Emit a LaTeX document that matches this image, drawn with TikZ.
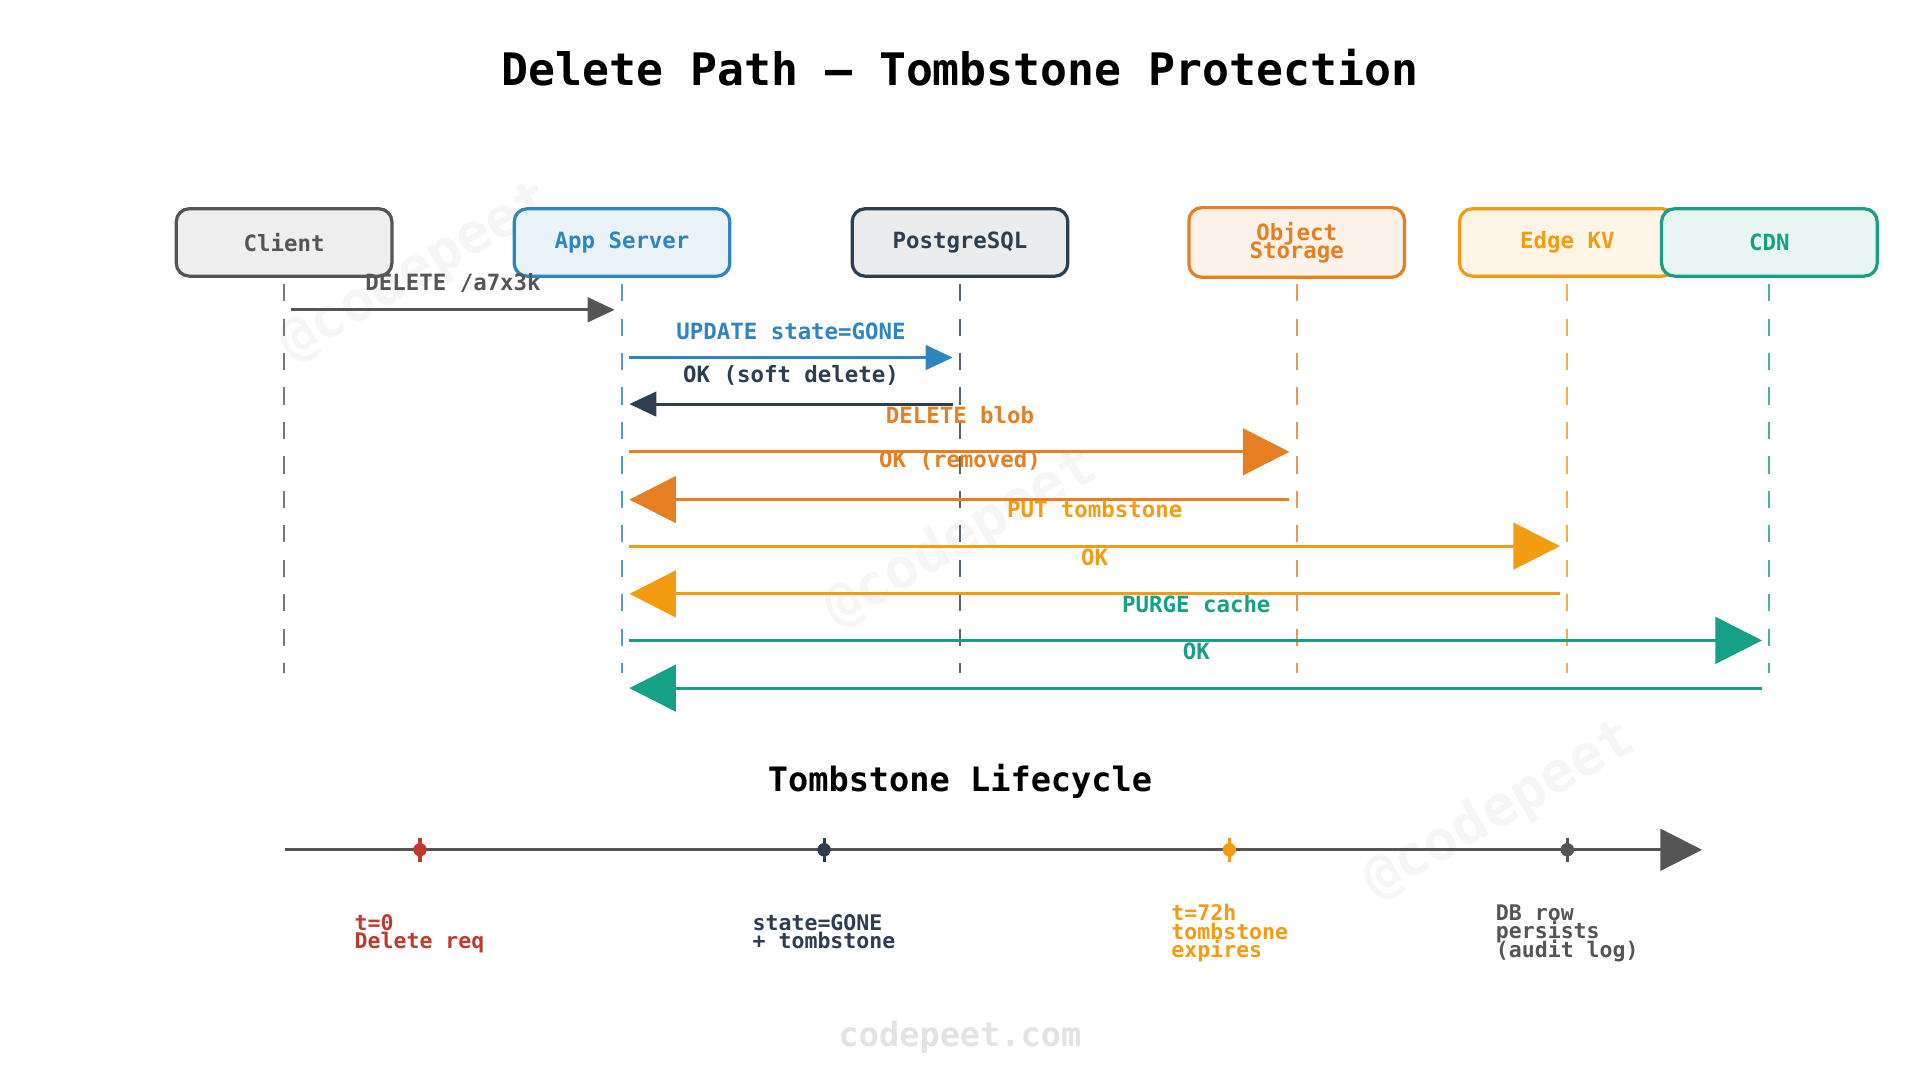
\documentclass[tikz,border=0pt]{standalone}
\usepackage{fontspec}
\setmonofont{DejaVu Sans Mono}
\usetikzlibrary{arrows.meta}
\definecolor{cgray}{HTML}{555555}
\definecolor{cblue}{HTML}{2E86C1}
\definecolor{cdark}{HTML}{2C3E50}
\definecolor{corange}{HTML}{E67E22}
\definecolor{cyellow}{HTML}{F39C12}
\definecolor{cteal}{HTML}{16A085}
\definecolor{cred}{HTML}{C0392B}
\newcommand{\steprows}{\lineskiplimit=-10pt\relax\lineskip=0pt\relax}
\tikzset{
  actor/.style = {draw=#1, fill=#1!10, line width=0.75pt, rounded corners=3pt,
    minimum width=1.76cm, minimum height=0.55cm, text=#1,
    font=\ttfamily\bfseries\fontsize{5.2}{5.2}\selectfont, align=center},
  life/.style = {draw=#1, dashed, dash pattern=on 4pt off 4pt, line width=0.5pt},
  msg/.style = {draw=#1, line width=0.7pt, -{Triangle[length=0.22cm,width=0.2cm]}},
  bigmsg/.style = {draw=#1, line width=0.7pt, -{Triangle[length=0.38cm,width=0.38cm]}},
  lbl/.style = {text=#1, font=\ttfamily\bfseries\fontsize{5.2}{5.2}\selectfont},
  step/.style = {text=#1, align=left, anchor=north west, inner sep=0pt,
    font=\ttfamily\bfseries\fontsize{5}{4.3}\selectfont\steprows},
  wmark/.style = {text=gray!7, rotate=30, font=\ttfamily\bfseries\fontsize{13}{13}\selectfont},
}
\begin{document}
\begin{tikzpicture}[x=0.01cm, y=-0.01cm]
    \useasboundingbox (0,0) rectangle (1568,882);

    % watermarks
    \node[wmark] (wm1) at (340,222) {@codepeet};
    \node[wmark] (wm2) at (785,440) {@codepeet};
    \node[wmark] (wm3) at (1225,662) {@codepeet};

    \node[font=\ttfamily\bfseries\fontsize{10.4}{10.4}\selectfont] (title) at (784,55) {Delete Path — Tombstone Protection};

    % participants
    \node[actor=cgray] (client) at (232,198) {Client};
    \node[actor=cblue] (app) at (508,198) {App Server};
    \node[actor=cdark] (pg) at (784,198) {PostgreSQL};
    \node[actor=corange] (obj) at (1059,198) {Object\\[-1pt]Storage};
    \node[actor=cyellow] (kv) at (1280,198) {Edge KV};
    \node[actor=cteal] (cdn) at (1445,198) {CDN};

    \foreach \p/\c in {client/cgray, app/cblue, pg/cdark, obj/corange, kv/cyellow, cdn/cteal} {
      \coordinate (\p-top) at (\p.south |- 0,232);
      \coordinate (\p-bot) at (\p.south |- 0,550);
      \draw[life=\c!80] (\p-top) -- (\p-bot);
    }

    % message ends
    \coordinate (m1a) at (238,253);  \coordinate (m1b) at (502,253);
    \coordinate (m2a) at (514,292);  \coordinate (m2b) at (778,292);
    \coordinate (m3a) at (778,330);  \coordinate (m3b) at (514,330);
    \coordinate (m4a) at (514,369);  \coordinate (m4b) at (1053,369);
    \coordinate (m5a) at (1053,408); \coordinate (m5b) at (514,408);
    \coordinate (m6a) at (514,446);  \coordinate (m6b) at (1274,446);
    \coordinate (m7a) at (1274,485); \coordinate (m7b) at (514,485);
    \coordinate (m8a) at (514,523);  \coordinate (m8b) at (1439,523);
    \coordinate (m9a) at (1439,562); \coordinate (m9b) at (514,562);

    \draw[msg=cgray] (m1a) -- (m1b);
    \node[lbl=cgray] (l1) at (370,231) {DELETE /a7x3k};
    \draw[msg=cblue] (m2a) -- (m2b);
    \node[lbl=cblue] (l2) at (646,271) {UPDATE state=GONE};
    \draw[msg=cdark] (m3a) -- (m3b);
    \node[lbl=cdark] (l3) at (646,307) {OK (soft delete)};
    \draw[bigmsg=corange] (m4a) -- (m4b);
    \node[lbl=corange] (l4) at (784,339) {DELETE blob};
    \draw[bigmsg=corange] (m5a) -- (m5b);
    \node[lbl=corange] (l5) at (784,376) {OK (removed)};
    \draw[bigmsg=cyellow] (m6a) -- (m6b);
    \node[lbl=cyellow] (l6) at (894,416) {PUT tombstone};
    \draw[bigmsg=cyellow] (m7a) -- (m7b);
    \node[lbl=cyellow] (l7) at (894,455) {OK};
    \draw[bigmsg=cteal] (m8a) -- (m8b);
    \node[lbl=cteal] (l8) at (977,493) {PURGE cache};
    \draw[bigmsg=cteal] (m9a) -- (m9b);
    \node[lbl=cteal] (l9) at (977,532) {OK};

    % lifecycle
    \node[font=\ttfamily\bfseries\fontsize{7.8}{7.8}\selectfont] (ltitle) at (784,638) {Tombstone Lifecycle};
    \coordinate (t-start) at (233,694);
    \coordinate (t-end) at (1390,694);
    \draw[draw=cgray, line width=0.7pt, -{Triangle[length=0.34cm,width=0.34cm]}] (t-start) -- (t-end);
    \foreach \x/\c/\n in {343/cred/d1, 673/cdark/d2, 1004/cyellow/d3, 1280/cgray/d4} {
      \draw[\c, line width=0.7pt] (\x,684) -- (\x,704);
      \fill[\c] (\x,694) circle (5.5) coordinate (\n);
    }
    \node[step=cred] (s1) at (289,746) {t=0\\Delete req};
    \node[step=cdark] (s2) at (614,746) {state=GONE\\+ tombstone};
    \node[step=cyellow] (s3) at (956,738) {t=72h\\tombstone\\expires};
    \node[step=cgray] (s4) at (1221,738) {DB row\\persists\\(audit log)};

    \node[text=gray!22, font=\ttfamily\bfseries\fontsize{7.8}{7.8}\selectfont] (footer) at (784,847) {codepeet.com};
  \end{tikzpicture}
\end{document}
